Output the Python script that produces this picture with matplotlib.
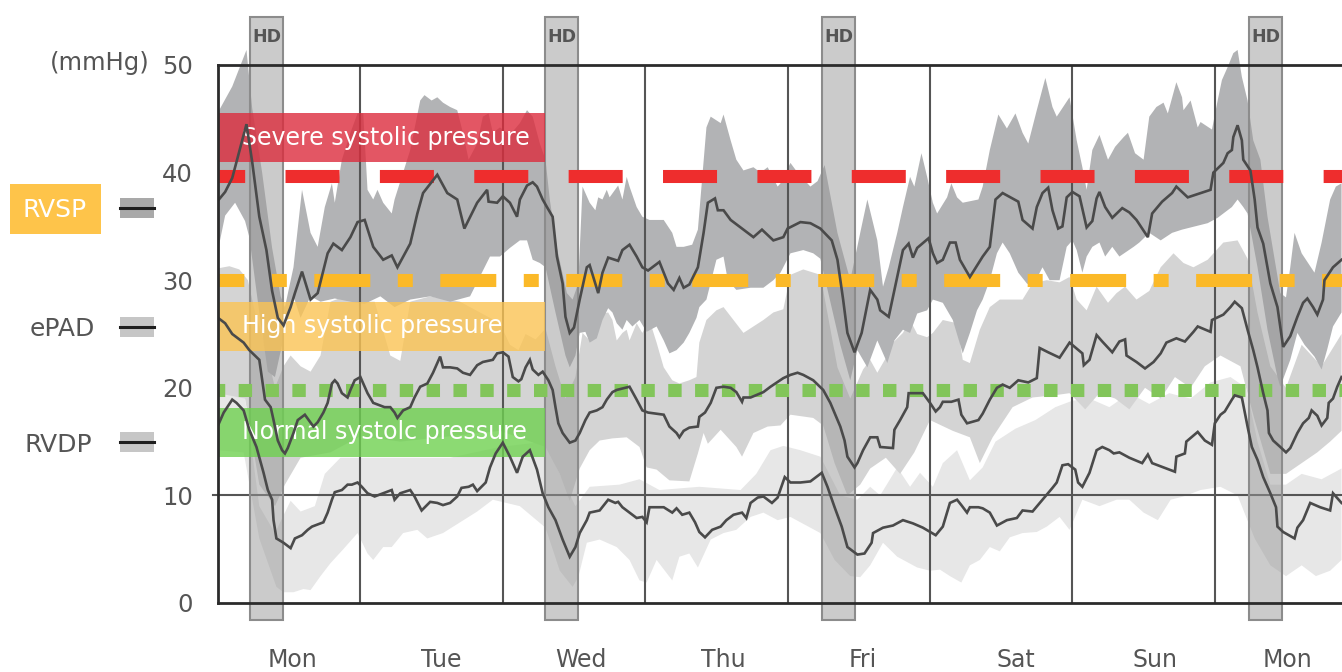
import numpy as np
import matplotlib
matplotlib.use('Agg')
import matplotlib.pyplot as plt
from matplotlib.patches import Rectangle

plt.rcParams['font.family'] = ['DejaVu Sans']
plt.rcParams['lines.scale_dashes'] = False

# time axis in days from Monday 00:00
day_labels = ['Mon', 'Tue', 'Wed', 'Thu', 'Fri', 'Sat', 'Sun', 'Mon']
day_label_pos = [0.52, 1.57, 2.55, 3.55, 4.53, 5.60, 6.58, 7.51]
hd_start = [0.225, 2.296, 4.242, 7.240]
hd_width = 0.232

# reference levels (mmHg)
severe_level = 39.7
high_level = 30.0
normal_level = 19.8
zones = [('Severe systolic pressure', 41.0, 45.5, '#dc2c3d'),
         ('High systolic pressure', 23.4, 28.0, '#fbc454'),
         ('Normal systolc pressure', 13.6, 18.1, '#6fd150')]
zone_end = 2.296

# RVSP
rvsp_t = [0.00, 0.05, 0.10, 0.15, 0.20, 0.24, 0.29, 0.34, 0.38, 0.42,
          0.46, 0.51, 0.54, 0.59, 0.65, 0.70, 0.77, 0.81, 0.87, 0.93,
          0.98, 1.03, 1.09, 1.16, 1.22, 1.26, 1.35, 1.40, 1.44, 1.54,
          1.61, 1.68, 1.73, 1.82, 1.89, 1.90, 1.96, 2.00, 2.05, 2.10,
          2.12, 2.17, 2.21, 2.24, 2.28, 2.31, 2.35, 2.38, 2.42, 2.44,
          2.47, 2.50, 2.54, 2.59, 2.61, 2.67, 2.70, 2.74, 2.81, 2.84,
          2.89, 2.94, 2.98, 3.02, 3.10, 3.16, 3.20, 3.24, 3.27, 3.31,
          3.37, 3.41, 3.44, 3.49, 3.51, 3.55, 3.60, 3.69, 3.76, 3.82,
          3.90, 3.97, 4.00, 4.09, 4.16, 4.23, 4.31, 4.35, 4.39, 4.42,
          4.47, 4.52, 4.58, 4.63, 4.65, 4.71, 4.77, 4.81, 4.85, 4.88,
          4.91, 4.99, 5.02, 5.05, 5.09, 5.14, 5.18, 5.21, 5.28, 5.37,
          5.42, 5.46, 5.51, 5.62, 5.65, 5.72, 5.75, 5.79, 5.83, 5.86,
          5.90, 5.93, 5.96, 6.00, 6.05, 6.10, 6.14, 6.17, 6.19, 6.23,
          6.28, 6.35, 6.40, 6.45, 6.53, 6.56, 6.63, 6.70, 6.73, 6.81,
          6.97, 6.99, 7.06, 7.09, 7.12, 7.13, 7.16, 7.19, 7.20, 7.25,
          7.28, 7.30, 7.34, 7.39, 7.44, 7.48, 7.53, 7.58, 7.62, 7.65,
          7.69, 7.72, 7.76, 7.77, 7.83, 7.89]
rvsp = [37.4, 38.2, 39.5, 42.0, 44.5, 41.0, 35.9, 32.8, 29.0, 26.5,
        25.8, 27.5, 28.8, 30.8, 28.2, 28.8, 32.5, 33.4, 32.8, 34.0,
        35.4, 35.6, 33.1, 31.9, 32.3, 31.2, 33.4, 36.2, 38.1, 39.8,
        38.1, 37.5, 34.8, 37.2, 38.4, 37.3, 37.2, 37.8, 37.2, 35.9,
        37.5, 38.8, 39.1, 38.7, 37.5, 36.8, 35.9, 32.2, 29.7, 26.6,
        25.1, 25.6, 28.2, 31.2, 31.4, 28.8, 30.7, 32.1, 31.8, 32.8,
        33.3, 32.2, 31.2, 30.9, 31.7, 29.7, 29.1, 30.2, 29.3, 29.6,
        31.2, 34.4, 37.2, 37.6, 36.5, 36.5, 35.6, 34.7, 34.0, 34.7,
        33.7, 34.0, 34.8, 35.4, 35.3, 34.8, 33.7, 31.9, 28.2, 25.1,
        23.3, 25.1, 29.1, 28.2, 27.2, 26.6, 30.3, 32.8, 33.4, 32.1,
        33.0, 33.9, 32.5, 31.6, 31.9, 33.5, 33.5, 31.9, 30.3, 32.2,
        33.1, 37.5, 38.1, 37.3, 35.6, 34.8, 36.8, 38.1, 38.6, 36.5,
        34.8, 35.0, 37.7, 38.2, 37.8, 34.9, 35.5, 37.6, 38.2, 36.8,
        35.8, 36.7, 36.3, 35.6, 34.0, 36.2, 37.3, 38.1, 38.7, 37.7,
        38.4, 40.0, 40.9, 41.8, 42.1, 43.3, 44.4, 43.0, 41.2, 40.2,
        37.5, 34.9, 33.4, 29.7, 27.5, 23.8, 24.8, 26.6, 27.9, 28.3,
        27.5, 26.8, 28.2, 30.0, 31.2, 31.9]

rvsp_hi_t = [0.00, 0.10, 0.20, 0.24, 0.31, 0.38, 0.44, 0.47, 0.53, 0.59,
             0.65, 0.70, 0.75, 0.80, 0.82, 0.87, 0.93, 0.98, 1.02, 1.05,
             1.09, 1.12, 1.16, 1.22, 1.24, 1.35, 1.42, 1.45, 1.50, 1.54,
             1.58, 1.63, 1.68, 1.72, 1.76, 1.82, 1.86, 1.90, 1.93, 1.98,
             2.05, 2.12, 2.17, 2.21, 2.26, 2.30, 2.33, 2.38, 2.45, 2.49,
             2.53, 2.56, 2.61, 2.65, 2.67, 2.70, 2.73, 2.75, 2.81, 2.84,
             2.87, 2.89, 2.94, 2.98, 3.03, 3.13, 3.19, 3.22, 3.27, 3.33,
             3.37, 3.43, 3.46, 3.53, 3.55, 3.60, 3.64, 3.69, 3.76, 3.81,
             3.86, 3.93, 3.95, 4.02, 4.07, 4.16, 4.21, 4.26, 4.35, 4.44,
             4.51, 4.56, 4.63, 4.67, 4.71, 4.77, 4.81, 4.86, 4.89, 4.94,
             4.98, 5.02, 5.05, 5.12, 5.15, 5.19, 5.23, 5.34, 5.37, 5.42,
             5.48, 5.54, 5.60, 5.65, 5.69, 5.75, 5.81, 5.86, 5.89, 5.98,
             6.03, 6.07, 6.10, 6.14, 6.19, 6.25, 6.30, 6.36, 6.39, 6.44,
             6.50, 6.54, 6.59, 6.64, 6.67, 6.73, 6.77, 6.78, 6.83, 6.88,
             6.90, 6.98, 7.02, 7.05, 7.09, 7.13, 7.16, 7.19, 7.23, 7.27,
             7.32, 7.37, 7.46, 7.50, 7.53, 7.56, 7.61, 7.70, 7.75, 7.81,
             7.85, 7.89]
rvsp_hi = [45.6, 48.0, 51.4, 46.0, 40.0, 33.0, 28.5, 27.5, 31.2, 38.4,
           34.4, 33.1, 36.8, 39.0, 37.2, 41.2, 43.7, 45.5, 45.5, 38.4,
           37.5, 38.4, 37.2, 36.2, 37.5, 42.1, 46.7, 47.2, 46.7, 47.0,
           46.5, 46.1, 45.8, 43.7, 41.2, 42.7, 45.2, 45.5, 43.7, 44.2,
           43.5, 44.6, 45.8, 45.2, 42.7, 41.2, 37.5, 33.0, 28.8, 28.2,
           29.7, 38.7, 37.2, 36.5, 37.7, 37.5, 38.4, 37.7, 38.8, 37.5,
           39.6, 38.7, 36.8, 35.9, 35.6, 35.6, 34.4, 33.1, 33.1, 33.3,
           34.7, 44.2, 45.2, 44.6, 45.4, 43.0, 41.2, 40.2, 40.5, 40.0,
           40.5, 38.7, 39.0, 40.9, 40.0, 38.7, 39.2, 40.7, 34.4, 30.0,
           34.4, 37.5, 33.7, 29.4, 31.2, 34.4, 36.8, 39.6, 38.7, 41.8,
           39.6, 37.2, 36.2, 37.7, 39.0, 37.7, 37.2, 37.5, 38.7, 42.1,
           45.4, 44.1, 45.5, 43.7, 42.7, 45.8, 48.8, 46.1, 45.2, 47.0,
           43.0, 40.5, 38.4, 42.1, 43.5, 41.2, 42.4, 43.3, 43.7, 41.8,
           41.2, 45.2, 46.1, 46.5, 45.5, 48.4, 47.0, 45.8, 46.7, 44.2,
           44.7, 44.0, 46.7, 48.6, 49.8, 51.1, 51.4, 48.9, 46.7, 43.0,
           41.2, 35.9, 28.8, 28.4, 31.2, 34.4, 32.5, 30.7, 33.5, 37.5,
           38.7, 39.0]

rvsp_lo_t = [0.00, 0.05, 0.12, 0.19, 0.22, 0.29, 0.35, 0.40, 0.45, 0.47,
             0.53, 0.58, 0.65, 0.72, 0.82, 0.93, 1.03, 1.14, 1.24, 1.35,
             1.49, 1.63, 1.77, 1.91, 1.98, 2.05, 2.12, 2.17, 2.21, 2.26,
             2.30, 2.37, 2.44, 2.47, 2.51, 2.54, 2.58, 2.61, 2.66, 2.70,
             2.74, 2.77, 2.80, 2.84, 2.87, 2.91, 2.96, 3.01, 3.08, 3.13,
             3.17, 3.22, 3.27, 3.31, 3.36, 3.38, 3.43, 3.50, 3.55, 3.58,
             3.64, 3.74, 3.83, 3.90, 3.95, 4.02, 4.11, 4.18, 4.23, 4.30,
             4.37, 4.44, 4.49, 4.56, 4.63, 4.70, 4.75, 4.81, 4.86, 4.91,
             4.98, 5.02, 5.09, 5.16, 5.23, 5.28, 5.33, 5.37, 5.42, 5.47,
             5.51, 5.56, 5.62, 5.68, 5.72, 5.79, 5.84, 5.91, 5.96, 6.00,
             6.03, 6.07, 6.10, 6.14, 6.19, 6.23, 6.28, 6.33, 6.43, 6.47,
             6.54, 6.62, 6.70, 6.77, 6.83, 6.95, 7.02, 7.06, 7.12, 7.16,
             7.20, 7.23, 7.30, 7.37, 7.44, 7.46, 7.53, 7.58, 7.63, 7.70,
             7.75, 7.79, 7.83, 7.89]
rvsp_lo = [32.8, 36.0, 37.2, 35.5, 34.0, 27.0, 21.5, 21.0, 24.0, 26.0,
           28.5, 26.5, 28.5, 28.0, 28.3, 28.0, 27.8, 28.5, 27.5, 28.2,
           28.5, 28.0, 28.5, 32.2, 32.2, 33.0, 33.7, 33.7, 31.9, 31.6,
           31.2, 27.0, 23.0, 21.9, 23.0, 25.1, 25.2, 24.2, 24.6, 26.3,
           27.4, 27.0, 26.0, 25.4, 26.3, 25.7, 26.3, 25.2, 25.7, 24.4,
           23.2, 23.5, 24.2, 25.1, 26.5, 27.5, 28.2, 31.9, 32.2, 30.0,
           29.1, 29.3, 29.3, 30.0, 30.7, 32.5, 32.8, 32.5, 32.0, 28.0,
           24.0, 20.7, 23.5, 21.9, 24.4, 22.3, 24.4, 25.4, 25.1, 26.9,
           27.2, 28.2, 27.9, 26.3, 23.2, 25.1, 27.2, 28.2, 30.0, 32.5,
           33.5, 32.5, 30.7, 29.7, 29.4, 31.2, 30.0, 30.0, 33.1, 33.7,
           32.8, 30.7, 32.2, 33.1, 33.5, 32.2, 33.1, 32.2, 33.1, 33.5,
           34.4, 33.7, 34.4, 34.7, 34.9, 35.3, 35.8, 36.2, 36.8, 37.5,
           36.8, 36.2, 31.2, 25.4, 21.0, 20.1, 22.6, 25.1, 24.0, 22.9,
           21.7, 23.6, 25.7, 27.0]

# ePAD
epad_t = [0.00, 0.05, 0.10, 0.18, 0.22, 0.29, 0.33, 0.37, 0.39, 0.42,
          0.45, 0.47, 0.49, 0.53, 0.56, 0.61, 0.67, 0.70, 0.74, 0.77,
          0.80, 0.82, 0.84, 0.87, 0.91, 0.93, 0.96, 1.00, 1.02, 1.05,
          1.09, 1.17, 1.21, 1.24, 1.26, 1.30, 1.35, 1.38, 1.42, 1.47,
          1.51, 1.56, 1.58, 1.63, 1.68, 1.72, 1.77, 1.82, 1.86, 1.93,
          1.96, 2.00, 2.04, 2.07, 2.11, 2.13, 2.16, 2.19, 2.21, 2.25,
          2.28, 2.32, 2.35, 2.37, 2.39, 2.42, 2.47, 2.51, 2.54, 2.58,
          2.61, 2.66, 2.70, 2.73, 2.77, 2.80, 2.89, 2.94, 2.98, 3.02,
          3.13, 3.17, 3.22, 3.24, 3.27, 3.31, 3.37, 3.38, 3.42, 3.46,
          3.50, 3.55, 3.60, 3.64, 3.68, 3.69, 3.74, 3.83, 3.88, 3.97,
          4.02, 4.07, 4.11, 4.18, 4.25, 4.30, 4.37, 4.40, 4.42, 4.47,
          4.49, 4.53, 4.58, 4.63, 4.65, 4.74, 4.75, 4.79, 4.84, 4.85,
          4.95, 5.00, 5.04, 5.07, 5.09, 5.15, 5.20, 5.22, 5.26, 5.34,
          5.37, 5.42, 5.47, 5.51, 5.56, 5.62, 5.69, 5.75, 5.77, 5.83,
          5.91, 5.98, 6.07, 6.08, 6.12, 6.17, 6.21, 6.28, 6.33, 6.37,
          6.38, 6.45, 6.51, 6.57, 6.62, 6.66, 6.73, 6.79, 6.85, 6.88,
          6.97, 6.98, 7.06, 7.11, 7.14, 7.19, 7.23, 7.27, 7.30, 7.34,
          7.37, 7.38, 7.41, 7.46, 7.50, 7.53, 7.58, 7.62, 7.66, 7.68,
          7.72, 7.75, 7.79, 7.80, 7.83, 7.86, 7.89]
epad = [26.5, 26.0, 25.0, 24.2, 23.5, 22.6, 18.9, 18.2, 17.0, 15.1,
        14.2, 13.9, 14.4, 15.8, 17.0, 17.5, 16.4, 16.8, 17.7, 18.6,
        20.4, 20.7, 20.4, 19.5, 19.1, 19.8, 20.7, 21.0, 20.4, 19.5,
        18.6, 18.2, 18.2, 17.7, 17.2, 17.9, 18.2, 19.1, 20.1, 20.4,
        21.4, 22.9, 21.9, 21.9, 21.8, 21.4, 21.2, 22.1, 22.4, 22.6,
        23.2, 23.3, 22.9, 21.0, 20.6, 20.8, 21.9, 22.6, 21.7, 21.2,
        21.5, 20.7, 19.8, 18.2, 16.7, 15.8, 14.9, 15.1, 15.8, 17.0,
        17.7, 17.9, 18.2, 18.9, 19.6, 19.8, 20.1, 18.9, 17.9, 17.7,
        17.5, 16.4, 15.8, 15.4, 16.0, 16.3, 16.4, 17.3, 17.7, 18.6,
        20.0, 20.1, 20.0, 19.6, 18.7, 19.1, 19.1, 19.6, 20.1, 20.9,
        21.2, 21.4, 21.2, 20.7, 19.8, 18.6, 16.4, 15.1, 13.6, 12.6,
        13.0, 14.2, 15.4, 15.4, 14.5, 14.4, 16.1, 17.0, 18.2, 19.5,
        19.5, 18.6, 17.8, 18.2, 18.7, 18.7, 18.9, 17.5, 16.7, 17.0,
        17.6, 18.9, 20.0, 20.3, 20.0, 20.7, 20.5, 20.9, 23.7, 23.3,
        22.8, 24.2, 23.2, 22.1, 22.6, 24.9, 24.3, 23.3, 24.3, 24.5,
        23.0, 22.4, 21.8, 22.4, 23.2, 24.2, 24.6, 24.3, 25.2, 25.7,
        25.2, 26.3, 26.8, 27.5, 28.0, 27.4, 25.4, 23.5, 21.9, 19.5,
        17.9, 15.8, 15.1, 14.5, 14.0, 14.4, 15.8, 16.7, 17.2, 17.9,
        17.4, 16.5, 17.2, 18.6, 19.0, 20.1, 21.0]

epad_hi_t = [0.00, 0.08, 0.15, 0.21, 0.26, 0.33, 0.40, 0.46, 0.51, 0.58,
             0.65, 0.72, 0.79, 0.89, 1.00, 1.10, 1.21, 1.28, 1.35, 1.49,
             1.70, 1.84, 1.91, 1.98, 2.05, 2.11, 2.16, 2.23, 2.30, 2.37,
             2.44, 2.51, 2.56, 2.61, 2.66, 2.70, 2.74, 2.77, 2.80, 2.84,
             2.87, 2.89, 2.94, 2.98, 3.03, 3.08, 3.13, 3.19, 3.24, 3.31,
             3.36, 3.38, 3.43, 3.50, 3.55, 3.62, 3.69, 3.76, 3.83, 3.90,
             3.97, 4.02, 4.11, 4.23, 4.35, 4.44, 4.53, 4.58, 4.63, 4.70,
             4.74, 4.81, 4.86, 4.91, 4.98, 5.02, 5.09, 5.19, 5.23, 5.28,
             5.35, 5.42, 5.49, 5.65, 5.72, 5.82, 5.91, 5.98, 6.03, 6.10,
             6.17, 6.25, 6.31, 6.37, 6.45, 6.54, 6.62, 6.71, 6.78, 6.85,
             6.95, 7.06, 7.16, 7.23, 7.30, 7.39, 7.50, 7.61, 7.75, 7.89]
epad_hi = [31.1, 31.3, 31.0, 30.0, 27.0, 24.0, 20.0, 22.0, 23.0, 22.0,
           21.5, 23.0, 28.0, 28.5, 28.0, 28.0, 23.0, 22.5, 28.0, 28.5,
           28.0, 27.0, 26.5, 26.0, 24.0, 23.5, 25.0, 24.5, 25.5, 22.0,
           19.0, 21.0, 25.1, 24.4, 26.0, 26.9, 27.0, 26.3, 24.4, 25.1,
           25.4, 24.4, 26.0, 25.1, 26.3, 24.2, 21.9, 20.7, 20.4, 20.7,
           21.0, 24.2, 26.3, 27.2, 27.5, 26.3, 25.1, 25.7, 26.3, 27.0,
           27.3, 30.5, 31.0, 30.5, 21.9, 19.0, 21.7, 22.6, 21.4, 23.0,
           24.2, 25.1, 26.3, 25.0, 24.7, 25.1, 26.3, 26.0, 22.6, 22.3,
           25.4, 27.5, 28.2, 28.2, 29.7, 30.0, 29.8, 30.3, 28.2, 27.2,
           29.4, 27.9, 28.8, 29.4, 28.2, 29.0, 31.2, 32.5, 31.6, 31.2,
           31.9, 33.5, 33.7, 32.0, 27.0, 22.0, 20.0, 24.0, 22.0, 25.0]

epad_lo_t = [0.00, 0.19, 0.29, 0.40, 0.47, 0.58, 0.79, 1.00, 1.28, 1.63,
             1.98, 2.30, 2.40, 2.47, 2.54, 2.61, 2.68, 2.77, 2.87, 2.96,
             3.01, 3.08, 3.17, 3.31, 3.37, 3.41, 3.44, 3.53, 3.64, 3.68,
             3.76, 3.86, 3.95, 4.02, 4.18, 4.25, 4.33, 4.42, 4.51, 4.58,
             4.69, 4.79, 4.89, 5.00, 5.16, 5.28, 5.35, 5.44, 5.58, 5.72,
             5.87, 5.98, 6.09, 6.19, 6.30, 6.40, 6.51, 6.62, 6.72,
             6.83, 6.93, 7.04, 7.18, 7.28, 7.39, 7.50, 7.61, 7.72, 7.81,
             7.89]
epad_lo = [19.5, 19.0, 11.0, 9.0, 11.0, 13.5, 14.0, 15.5, 15.0, 15.5,
           16.0, 14.5, 12.0, 9.5, 12.5, 14.2, 15.1, 15.3, 15.4, 14.5,
           12.6, 12.4, 11.4, 11.3, 13.9, 15.8, 14.8, 16.1, 14.5, 13.6,
           15.8, 16.4, 16.5, 17.5, 17.2, 16.5, 13.0, 10.0, 11.0, 12.5,
           13.5, 12.0, 14.0, 17.0, 16.0, 15.4, 13.0, 15.4, 18.2, 19.1,
           19.3, 19.5, 18.0, 19.5, 19.0, 18.0, 20.0, 19.0, 21.0,
           20.0, 22.0, 23.0, 22.0, 17.0, 12.0, 12.0, 13.0, 14.0, 15.0,
           16.0]

# RVDP
rvdp_t = [0.00, 0.04, 0.10, 0.13, 0.18, 0.22, 0.27, 0.32, 0.35, 0.38,
          0.39, 0.41, 0.46, 0.51, 0.54, 0.59, 0.63, 0.66, 0.74, 0.77,
          0.80, 0.82, 0.87, 0.91, 0.94, 0.98, 1.01, 1.05, 1.10, 1.16,
          1.22, 1.24, 1.28, 1.35, 1.38, 1.43, 1.49, 1.54, 1.58, 1.63,
          1.68, 1.71, 1.76, 1.79, 1.82, 1.88, 1.91, 1.95, 2.00, 2.05,
          2.10, 2.14, 2.19, 2.24, 2.28, 2.32, 2.37, 2.42, 2.47, 2.51,
          2.54, 2.59, 2.61, 2.68, 2.74, 2.79, 2.81, 2.84, 2.89, 2.94,
          2.98, 3.01, 3.03, 3.13, 3.19, 3.22, 3.26, 3.31, 3.35, 3.38,
          3.42, 3.47, 3.53, 3.57, 3.62, 3.68, 3.71, 3.74, 3.79, 3.83,
          3.89, 3.93, 3.98, 4.02, 4.09, 4.16, 4.24, 4.28, 4.33, 4.38,
          4.42, 4.49, 4.54, 4.59, 4.60, 4.67, 4.74, 4.81, 4.88, 4.95,
          5.04, 5.09, 5.14, 5.19, 5.22, 5.26, 5.28, 5.34, 5.37, 5.42,
          5.47, 5.54, 5.61, 5.65, 5.72, 5.79, 5.86, 5.89, 5.93, 5.97,
          6.02, 6.04, 6.07, 6.12, 6.17, 6.21, 6.26, 6.29, 6.33, 6.40,
          6.49, 6.53, 6.56, 6.64, 6.72, 6.73, 6.79, 6.80, 6.88, 6.93,
          6.98, 7.00, 7.04, 7.07, 7.12, 7.14, 7.19, 7.23, 7.26, 7.30,
          7.34, 7.39, 7.43, 7.44, 7.48, 7.56, 7.58, 7.62, 7.67, 7.74,
          7.81, 7.83, 7.89]
rvdp = [16.5, 17.7, 18.9, 18.6, 17.9, 16.1, 14.5, 12.1, 10.5, 9.6,
        7.7, 6.0, 5.6, 5.1, 6.0, 6.3, 6.8, 7.1, 7.5, 8.4,
        9.6, 10.3, 10.5, 11.0, 11.0, 11.2, 10.8, 10.2, 9.9, 10.2,
        10.5, 9.6, 10.2, 10.5, 9.9, 8.6, 9.4, 9.3, 9.1, 9.3,
        9.9, 10.7, 10.8, 11.0, 10.4, 11.2, 12.6, 13.9, 14.9, 13.6,
        12.1, 13.6, 14.2, 12.4, 10.2, 8.9, 7.7, 5.9, 4.3, 5.2,
        6.5, 7.7, 8.4, 8.6, 9.6, 9.3, 9.4, 8.9, 8.4, 7.9,
        8.0, 7.5, 8.9, 8.9, 8.4, 8.8, 8.2, 8.4, 7.5, 6.6,
        6.1, 6.8, 7.1, 7.7, 8.2, 8.4, 7.9, 9.3, 9.8, 9.9,
        9.3, 9.8, 11.7, 11.2, 11.2, 11.3, 12.1, 10.8, 8.9, 7.1,
        5.2, 4.5, 4.6, 5.6, 6.5, 7.0, 7.2, 7.7, 7.4, 7.0,
        6.3, 7.1, 9.3, 9.6, 9.1, 8.4, 8.9, 8.9, 8.8, 8.4,
        7.2, 7.7, 7.9, 8.6, 8.5, 9.6, 10.7, 11.2, 12.8, 12.9,
        12.4, 11.2, 10.8, 12.1, 14.2, 14.5, 14.2, 13.9, 14.0, 13.5,
        13.0, 13.8, 13.0, 12.6, 12.2, 13.6, 13.9, 15.0, 15.9, 15.1,
        14.7, 16.7, 17.5, 17.8, 18.9, 19.3, 19.1, 16.4, 14.5, 13.3,
        11.7, 10.2, 8.9, 7.1, 6.6, 6.0, 7.0, 7.7, 9.3, 8.9,
        8.6, 10.2, 9.3]

rvdp_hi_t = [0.00, 0.18, 0.29, 0.40, 0.51, 0.58, 0.68, 0.75, 0.86, 1.00,
             1.28, 1.63, 1.98, 2.30, 2.40, 2.51, 2.61, 2.82, 2.96, 3.10,
             3.38, 3.67, 3.78, 3.88, 3.97, 4.09, 4.23, 4.37, 4.49, 4.58,
             4.65, 4.77, 4.86, 4.93, 5.02, 5.09, 5.19, 5.28, 5.37, 5.46,
             5.60, 5.74, 5.88, 6.00, 6.12, 6.26, 6.40, 6.54,
             6.68, 6.83, 6.97, 7.11, 7.22, 7.30, 7.39, 7.50, 7.61, 7.75,
             7.89]
rvdp_hi = [20.0, 20.0, 9.0, 6.5, 9.5, 8.5, 9.0, 12.0, 13.5, 13.5,
           13.5, 13.5, 14.5, 15.0, 12.0, 9.0, 10.8, 11.0, 11.5, 10.5,
           10.8, 10.5, 12.0, 14.2, 14.6, 14.2, 13.6, 10.0, 9.6, 10.8,
           10.0, 12.6, 10.8, 12.1, 10.8, 13.0, 14.2, 11.4, 12.6, 15.0,
           16.2, 17.0, 18.2, 18.8, 19.0, 18.2, 19.5, 18.5,
           19.5, 19.0, 20.5, 21.0, 20.0, 15.0, 11.0, 11.0, 12.0, 11.5,
           12.5]

rvdp_lo_t = [0.00, 0.18, 0.29, 0.41, 0.46, 0.53, 0.60, 0.65, 0.72, 0.79,
             0.88, 0.98, 1.05, 1.09, 1.16, 1.22, 1.30, 1.40, 1.47, 1.58,
             1.70, 1.82, 1.93, 2.12, 2.30, 2.40, 2.49, 2.53, 2.59, 2.68,
             2.80, 2.89, 2.96, 3.01, 3.08, 3.19, 3.24, 3.31, 3.37, 3.46,
             3.55, 3.64, 3.74, 3.83, 3.93, 4.02, 4.23, 4.33, 4.44, 4.51,
             4.58, 4.67, 4.77, 4.91, 5.00, 5.07, 5.14, 5.22, 5.28, 5.35,
             5.42, 5.49, 5.56, 5.65, 5.75, 5.82, 5.91, 5.98, 6.07, 6.19,
             6.31, 6.40, 6.50, 6.60, 6.69, 6.78, 6.90, 7.04, 7.16, 7.28,
             7.39, 7.50, 7.61, 7.71, 7.81, 7.89]
rvdp_lo = [14.2, 14.0, 6.0, 1.5, 1.0, 1.0, 1.3, 1.2, 2.5, 3.7,
           5.0, 6.5, 4.6, 4.0, 5.2, 5.2, 6.5, 6.8, 6.0, 6.5,
           7.5, 8.5, 9.6, 9.0, 7.0, 3.0, 1.5, 2.4, 5.6, 5.9,
           5.2, 4.0, 2.1, 1.9, 4.0, 2.1, 4.3, 4.6, 3.3, 5.9,
           6.5, 6.8, 8.0, 8.4, 7.7, 8.0, 6.5, 4.0, 2.5, 2.4,
           3.5, 5.6, 4.3, 3.3, 3.0, 3.1, 2.5, 1.9, 3.5, 4.0,
           5.2, 4.8, 6.1, 6.5, 6.6, 7.1, 8.0, 6.8, 9.6, 9.0,
           9.6, 9.6, 8.4, 7.7, 9.6, 9.9, 10.5, 10.8, 10.0, 6.0,
           3.5, 2.5, 3.5, 2.5, 3.0, 4.0]

W, H = 1342, 672
fig = plt.figure(figsize=(W / 100, H / 100), dpi=100)
ax = fig.add_axes([218 / W, 1 - 603 / H, (W - 218) / W, 538 / H])
ax.set_xlim(0, (W - 218) / 142.4)
ax.set_ylim(0, 50)


def fx(px):
    return px / W


def fy(py):
    return 1 - py / H


def band(t_hi, v_hi, t_lo, v_lo, color, z):
    xs = np.concatenate([t_hi, t_lo[::-1]])
    ys = np.concatenate([v_hi, v_lo[::-1]])
    poly = ax.fill(xs, ys, color=color, lw=0, zorder=z)[0]
    poly.set_clip_on(False)


band(np.array(rvdp_hi_t), np.array(rvdp_hi), np.array(rvdp_lo_t), np.array(rvdp_lo), '#e7e7e7', 1)
band(np.array(epad_hi_t), np.array(epad_hi), np.array(epad_lo_t), np.array(epad_lo), '#d4d4d4', 2)
band(np.array(rvsp_hi_t), np.array(rvsp_hi), np.array(rvsp_lo_t), np.array(rvsp_lo), '#b2b3b5', 3)

# day separators and 10 mmHg line
for d in range(1, 8):
    ax.plot([d, d], [0, 50], color='#555555', lw=1.5, zorder=4, solid_capstyle='butt')
ax.plot([-0.035, ax.get_xlim()[1]], [10, 10], color='#555555', lw=1.5, zorder=4, clip_on=False)

# HD sessions
for s in hd_start:
    ax.add_patch(Rectangle((s, -1.58), hd_width, 56.0, facecolor=(0.6, 0.6, 0.6, 0.5),
                           edgecolor='#8c8c8c', lw=1.5, zorder=5, clip_on=False))
    ax.text(s + hd_width / 2, 52.6, 'HD', ha='center', va='center', fontsize=12.5,
            fontweight='bold', color='#555555', zorder=6, clip_on=False)

# zones
for label, lo, hi, col in zones:
    ax.add_patch(Rectangle((0, lo), zone_end, hi - lo, facecolor=col, alpha=0.8, lw=0, zorder=6))
    ax.text(0.17, (lo + hi) / 2, label, color='white', fontsize=17, va='center', ha='left', zorder=7)

# reference levels
xmax = ax.get_xlim()[1]
ax.plot([0, xmax], [severe_level] * 2, color='#ee2d2d', lw=9.4, dash_capstyle='butt',
        linestyle=(19.7, (38.9, 29.05)), zorder=7)
ax.plot([0, xmax], [high_level] * 2, color='#fbb928', lw=9.4, dash_capstyle='butt',
        linestyle=(21.7, (40.3, 19.8, 10.8, 19.8)), zorder=7)
ax.plot([0, xmax], [normal_level] * 2, color='#82c55a', lw=9.4, dash_capstyle='butt',
        linestyle=(4.8, (9.65, 9.68)), zorder=7)

# measurement lines
for t, v in [(rvdp_t, rvdp), (epad_t, epad), (rvsp_t, rvsp)]:
    ax.plot(t, v, color='#4a4a4a', lw=1.9, zorder=8, solid_joinstyle='miter')

# axes styling
for side in ['top', 'bottom', 'left']:
    ax.spines[side].set_linewidth(2)
    ax.spines[side].set_color('#2b2b2b')
    ax.spines[side].set_zorder(9)
ax.spines['right'].set_visible(False)
ax.set_yticks([0, 10, 20, 30, 40, 50])
ax.tick_params(axis='y', length=0, pad=18, labelsize=17.5, labelcolor='#555555')
ax.set_xticks([])
for pos, lab in zip(day_label_pos, day_labels):
    ax.text(pos, -0.106, lab, transform=ax.get_xaxis_transform(), ha='center', va='center',
            fontsize=17, color='#555555')

fig.text(fx(150), fy(63), '(mmHg)', ha='right', va='center', fontsize=17.5, color='#555555')

# legend on the left
fig.patches.append(Rectangle((fx(10), fy(234)), fx(91), 50 / H, transform=fig.transFigure,
                             facecolor='#fec44a', lw=0))
fig.text(fx(55), fy(210), 'RVSP', ha='center', va='center', fontsize=18, color='white')
fig.text(fx(95), fy(329), 'ePAD', ha='right', va='center', fontsize=18, color='#555555')
fig.text(fx(92), fy(445), 'RVDP', ha='right', va='center', fontsize=18, color='#555555')
for yc, col in [(208, '#a9a9a9'), (327, '#c6c6c6'), (442, '#c6c6c6')]:
    fig.patches.append(Rectangle((fx(120), fy(yc + 10)), fx(34), 20 / H,
                                 transform=fig.transFigure, facecolor=col, lw=0))
    fig.lines.append(plt.Line2D([fx(120), fx(154)], [fy(yc), fy(yc)], transform=fig.transFigure,
                                color='#1e1e1e', lw=2.2))

fig.savefig('out.png', dpi=100)
